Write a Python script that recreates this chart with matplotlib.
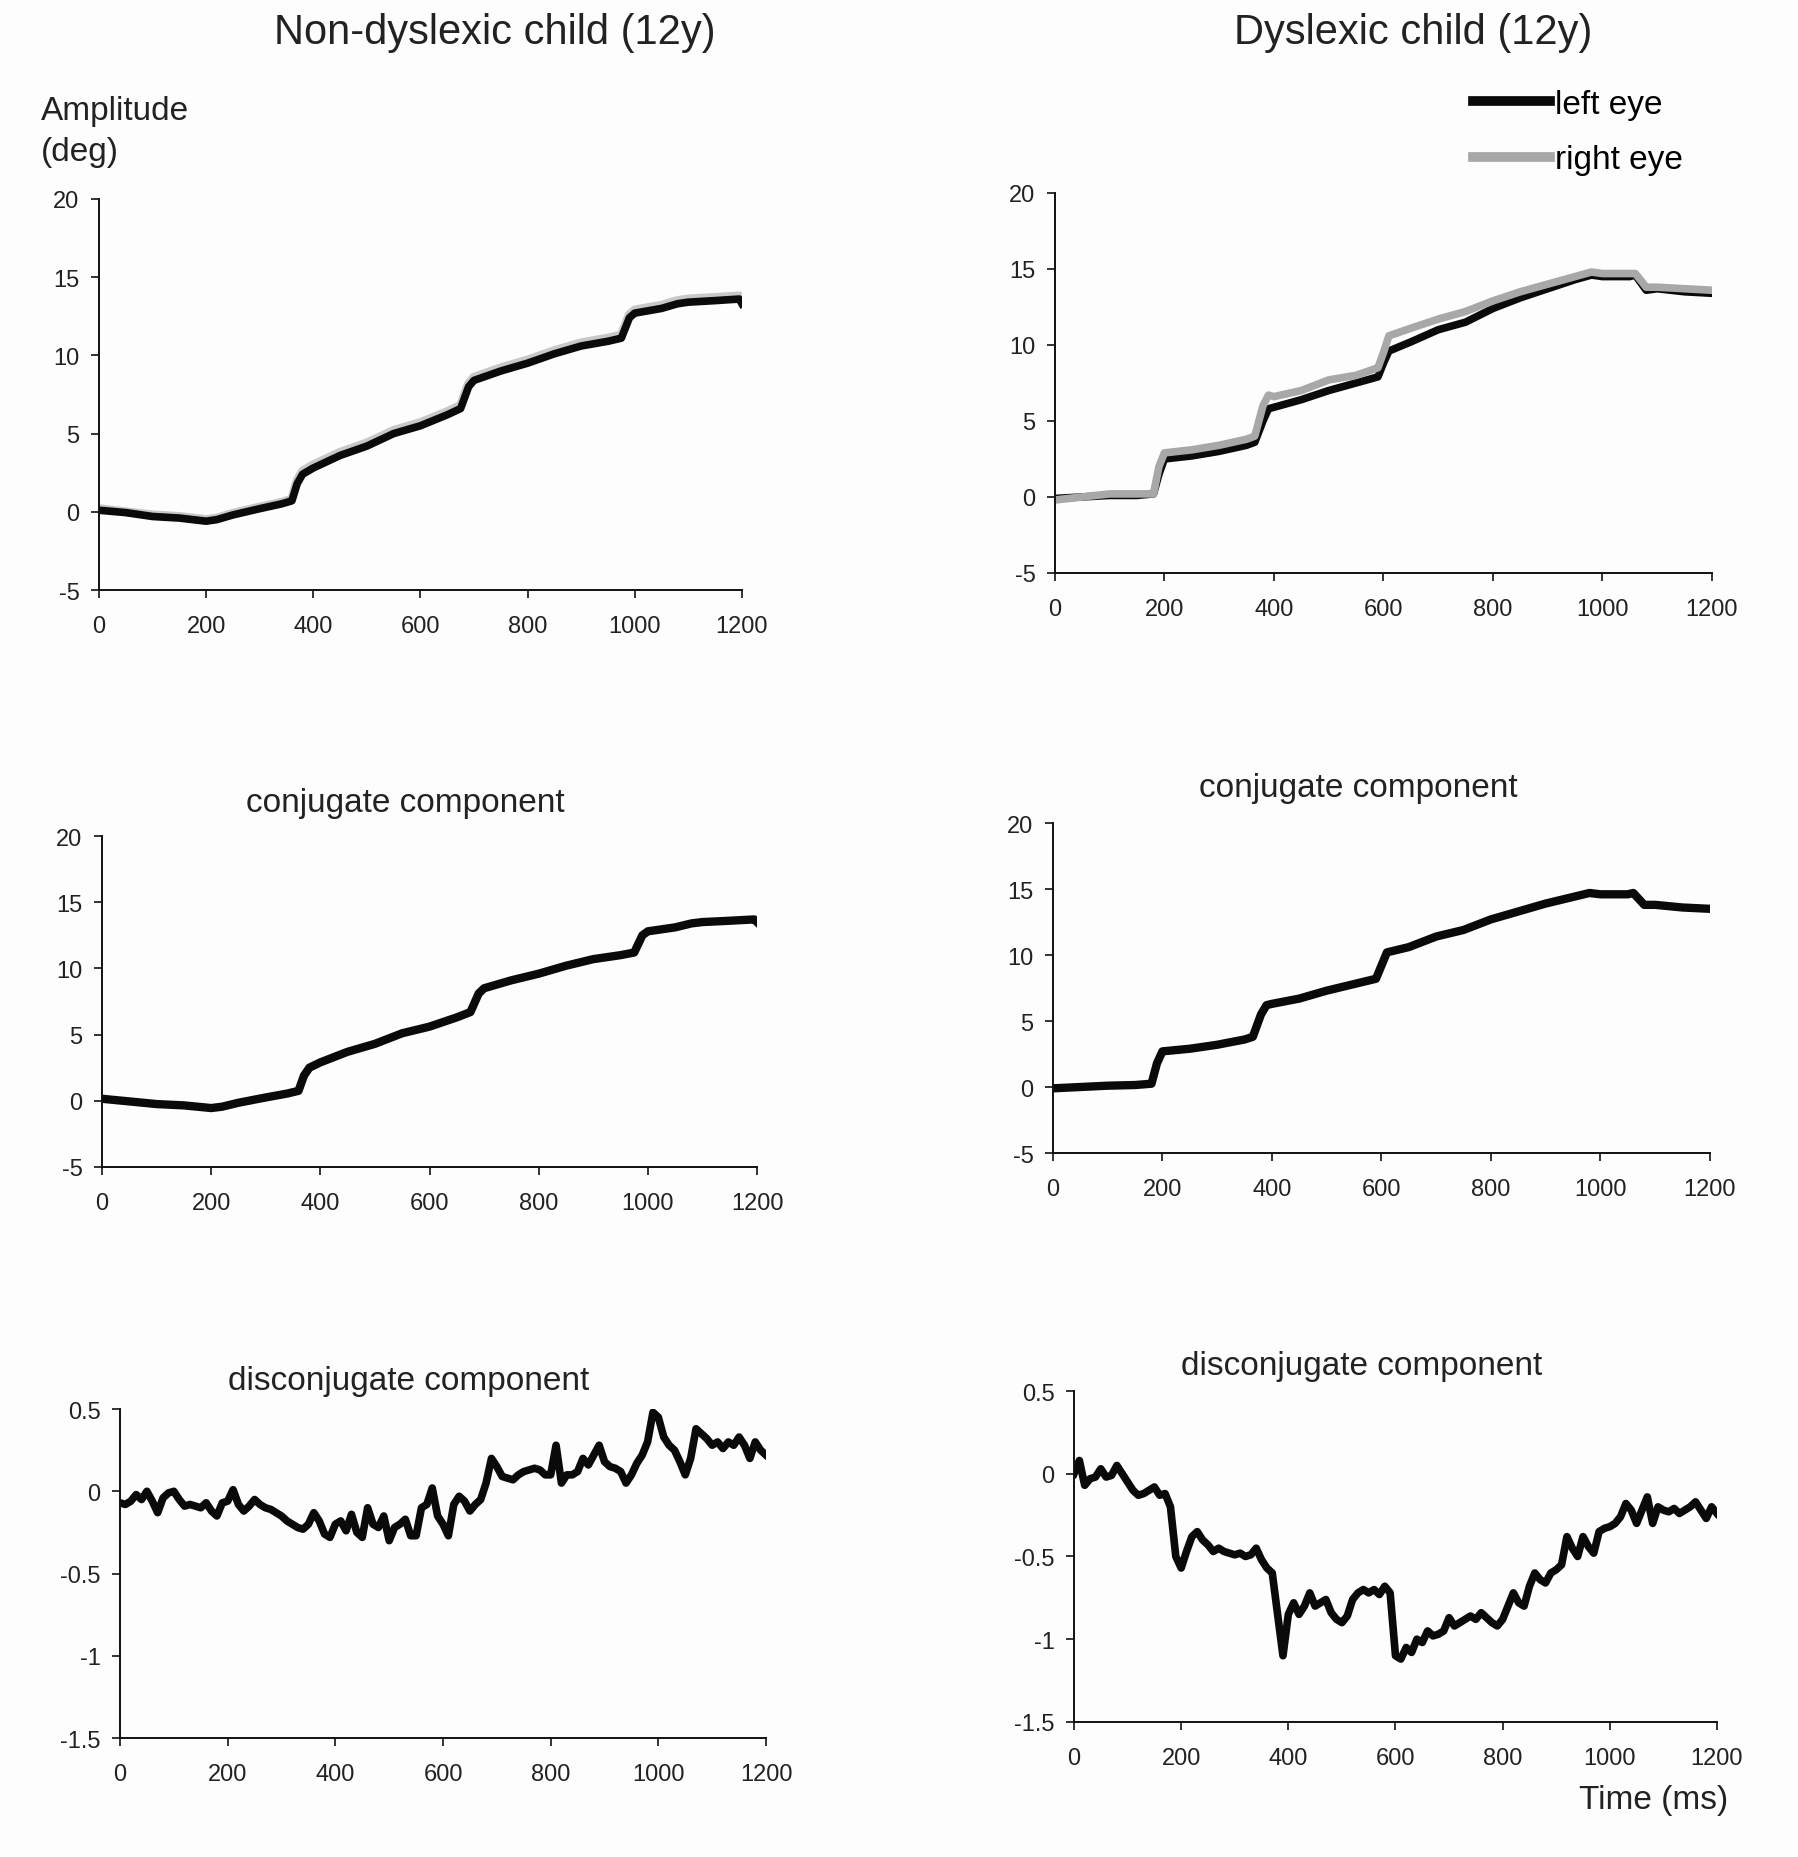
import numpy as np
import matplotlib
matplotlib.use('Agg')
import matplotlib.pyplot as plt
from matplotlib.ticker import FuncFormatter

plt.rcParams['font.family'] = ['Liberation Sans', 'DejaVu Sans']
plt.rcParams['axes.unicode_minus'] = False

# --- Daten ---
# Nicht-dyslektisches Kind: Positionen (linkes / rechtes Auge)
t_nd = [0, 50, 100, 150, 200, 220, 250, 300, 340, 360, 370, 380, 400, 450, 500, 550,
        600, 650, 675, 690, 700, 750, 800, 850, 900, 950, 975, 990, 1000, 1050, 1080,
        1100, 1150, 1195, 1200]
nd_left = [0.1, -0.05, -0.3, -0.4, -0.6, -0.5, -0.2, 0.2, 0.5, 0.7, 1.8, 2.4, 2.8, 3.6, 4.2, 5.0,
           5.5, 6.2, 6.6, 8.0, 8.4, 9.0, 9.5, 10.1, 10.6, 10.9, 11.1, 12.4, 12.7, 13.0, 13.3,
           13.4, 13.5, 13.6, 13.3]
nd_right = [0.2, 0.0, -0.2, -0.3, -0.5, -0.4, -0.1, 0.3, 0.6, 0.8, 2.0, 2.6, 3.0, 3.8, 4.4, 5.2,
            5.7, 6.4, 6.8, 8.2, 8.6, 9.2, 9.7, 10.3, 10.8, 11.1, 11.3, 12.6, 12.9, 13.2, 13.5,
            13.6, 13.7, 13.8, 13.7]
nd_conj = [0.15, -0.05, -0.25, -0.35, -0.55, -0.45, -0.15, 0.25, 0.55, 0.75, 1.9, 2.5, 2.9, 3.7, 4.3, 5.1,
           5.6, 6.3, 6.7, 8.1, 8.5, 9.1, 9.6, 10.2, 10.7, 11.0, 11.2, 12.5, 12.8, 13.1, 13.4,
           13.5, 13.6, 13.7, 13.5]

# Dyslektisches Kind: Positionen
t_d = [0, 50, 100, 150, 180, 190, 200, 250, 300, 350, 365, 380, 390, 400, 450, 500, 550,
       590, 600, 610, 650, 700, 750, 800, 850, 900, 950, 980, 1000, 1050, 1060, 1080,
       1100, 1150, 1200]
d_left = [-0.1, 0.0, 0.1, 0.1, 0.2, 1.5, 2.5, 2.7, 3.0, 3.4, 3.6, 5.0, 5.8, 5.9, 6.4, 7.0, 7.5,
          7.9, 8.8, 9.6, 10.2, 11.0, 11.5, 12.4, 13.1, 13.7, 14.3, 14.6, 14.5, 14.5, 14.6, 13.6,
          13.7, 13.5, 13.4]
d_right = [-0.2, 0.0, 0.2, 0.2, 0.2, 2.0, 2.9, 3.1, 3.4, 3.8, 4.0, 6.0, 6.7, 6.6, 7.0, 7.7, 8.0,
           8.5, 9.5, 10.6, 11.1, 11.7, 12.2, 12.9, 13.5, 14.0, 14.5, 14.8, 14.7, 14.7, 14.7, 13.8,
           13.8, 13.7, 13.6]
d_conj = [-0.1, 0.0, 0.1, 0.15, 0.25, 1.8, 2.7, 2.9, 3.2, 3.6, 3.8, 5.5, 6.2, 6.3, 6.7, 7.3, 7.8,
          8.2, 9.2, 10.2, 10.6, 11.4, 11.9, 12.7, 13.3, 13.9, 14.4, 14.7, 14.6, 14.6, 14.7, 13.8,
          13.8, 13.6, 13.5]

# Disjugierte Komponente (10-ms-Raster)
t_dis = list(range(0, 1201, 10))
nd_dis = [-0.07, -0.08, -0.06, -0.02, -0.05, 0.0, -0.06, -0.13, -0.04, -0.01,
          0.0, -0.05, -0.09, -0.08, -0.09, -0.1, -0.07, -0.12, -0.15, -0.07,
          -0.06, 0.01, -0.08, -0.12, -0.09, -0.05, -0.08, -0.1, -0.11, -0.13,
          -0.15, -0.18, -0.2, -0.22, -0.23, -0.2, -0.13, -0.18, -0.26, -0.28,
          -0.2, -0.18, -0.24, -0.14, -0.25, -0.28, -0.1, -0.2, -0.22, -0.15,
          -0.3, -0.22, -0.2, -0.17, -0.27, -0.27, -0.1, -0.08, 0.02, -0.15,
          -0.2, -0.27, -0.08, -0.03, -0.06, -0.12, -0.08, -0.05, 0.05, 0.2,
          0.15, 0.09, 0.08, 0.07, 0.1, 0.12, 0.13, 0.14, 0.13, 0.1,
          0.1, 0.28, 0.05, 0.1, 0.1, 0.12, 0.2, 0.16, 0.22, 0.28,
          0.18, 0.15, 0.14, 0.12, 0.05, 0.1, 0.17, 0.22, 0.3, 0.48,
          0.45, 0.33, 0.28, 0.25, 0.18, 0.1, 0.2, 0.38, 0.35, 0.32,
          0.28, 0.3, 0.26, 0.3, 0.28, 0.33, 0.28, 0.2, 0.3, 0.25,
          0.22]
d_dis = [0.0, 0.08, -0.07, -0.03, -0.02, 0.03, -0.02, -0.01, 0.05, 0.0,
         -0.05, -0.1, -0.13, -0.12, -0.1, -0.08, -0.13, -0.12, -0.2, -0.5,
         -0.57, -0.47, -0.38, -0.35, -0.4, -0.43, -0.47, -0.45, -0.47, -0.48,
         -0.49, -0.48, -0.5, -0.49, -0.45, -0.52, -0.57, -0.6, -0.85, -1.1,
         -0.85, -0.78, -0.85, -0.8, -0.72, -0.8, -0.78, -0.76, -0.84, -0.88,
         -0.9, -0.86, -0.76, -0.72, -0.7, -0.72, -0.7, -0.73, -0.68, -0.72,
         -1.1, -1.12, -1.05, -1.08, -1.0, -1.02, -0.95, -0.98, -0.97, -0.95,
         -0.87, -0.92, -0.9, -0.88, -0.86, -0.88, -0.84, -0.87, -0.9, -0.92,
         -0.88, -0.8, -0.72, -0.78, -0.8, -0.68, -0.6, -0.64, -0.66, -0.6,
         -0.58, -0.55, -0.38, -0.45, -0.5, -0.38, -0.44, -0.48, -0.35, -0.33,
         -0.32, -0.3, -0.26, -0.18, -0.22, -0.3, -0.22, -0.14, -0.3, -0.2,
         -0.22, -0.23, -0.21, -0.24, -0.22, -0.2, -0.17, -0.22, -0.27, -0.2,
         -0.24]

x_ticks = [0, 200, 400, 600, 800, 1000, 1200]
pos_ticks = [-5, 0, 5, 10, 15, 20]
dis_ticks = [-1.5, -1, -0.5, 0, 0.5]

BLACK = '#0a0a0a'
GRAY = '#a8a8a8'


def style_ax(ax, ylim, yticks):
    ax.set_xlim(0, 1200)
    ax.set_ylim(*ylim)
    ax.set_xticks(x_ticks)
    ax.set_yticks(yticks)
    ax.yaxis.set_major_formatter(FuncFormatter(lambda v, p: '%g' % v))
    for s in ['top', 'right']:
        ax.spines[s].set_visible(False)
    for s in ['left', 'bottom']:
        ax.spines[s].set_linewidth(1.4)
        ax.spines[s].set_color('#111111')
    ax.tick_params(axis='both', direction='out', length=6, width=1.2,
                   labelsize=17, colors='#111111', labelcolor='#222222')
    ax.tick_params(axis='x', pad=12)
    ax.tick_params(axis='y', pad=8)


fig = plt.figure(figsize=(17.99, 18.58), dpi=100)
fig.patch.set_facecolor('#fdfdfd')

# Positionen der Achsen (links, unten, Breite, Höhe)
ax_tl = fig.add_axes([0.0550, 0.6819, 0.3574, 0.2105])
ax_tr = fig.add_axes([0.5864, 0.6911, 0.3652, 0.2045])
ax_ml = fig.add_axes([0.0567, 0.3714, 0.3641, 0.1781])
ax_mr = fig.add_axes([0.5853, 0.3789, 0.3652, 0.1776])
ax_bl = fig.add_axes([0.0667, 0.0640, 0.3591, 0.1771])
ax_br = fig.add_axes([0.5970, 0.0727, 0.3574, 0.1781])

for ax in [ax_tl, ax_tr, ax_ml, ax_mr, ax_bl, ax_br]:
    ax.set_facecolor('#fdfdfd')

# Oben links
ax_tl.plot(t_nd, nd_right, color='#c8c8c8', lw=6.5, solid_joinstyle='round')
ax_tl.plot(t_nd, nd_left, color=BLACK, lw=5.5, solid_joinstyle='round')
style_ax(ax_tl, (-5, 20), pos_ticks)

# Oben rechts
ax_tr.plot(t_d, d_left, color=BLACK, lw=5.5, label='left eye', solid_joinstyle='round')
ax_tr.plot(t_d, d_right, color=GRAY, lw=5.5, label='right eye', solid_joinstyle='round')
style_ax(ax_tr, (-5, 20), pos_ticks)

# Mitte: konjugierte Komponente
ax_ml.plot(t_nd, nd_conj, color=BLACK, lw=6, solid_joinstyle='round')
style_ax(ax_ml, (-5, 20), pos_ticks)
ax_mr.plot(t_d, d_conj, color=BLACK, lw=6, solid_joinstyle='round')
style_ax(ax_mr, (-5, 20), pos_ticks)

# Unten: disjugierte Komponente
ax_bl.plot(t_dis, nd_dis, color=BLACK, lw=5.5, solid_joinstyle='round')
style_ax(ax_bl, (-1.5, 0.5), dis_ticks)
ax_br.plot(t_dis, d_dis, color=BLACK, lw=5.5, solid_joinstyle='round')
style_ax(ax_br, (-1.5, 0.5), dis_ticks)

# Legende
leg = fig.legend(handles=ax_tr.get_lines(), loc='upper left', bbox_to_anchor=(0.819, 0.9515),
                 frameon=False, fontsize=24, handlelength=2.3, handletextpad=0.15,
                 labelspacing=0.73, borderpad=0, borderaxespad=0)
for line in leg.get_lines():
    line.set_linewidth(7)

# Beschriftungen
fig.text(0.2752, 0.9822, 'Non-dyslexic child (12y)', fontsize=30, ha='center', va='center', color='#222222')
fig.text(0.7854, 0.9822, 'Dyslexic child (12y)', fontsize=30, ha='center', va='center', color='#222222')
fig.text(0.0228, 0.9400, 'Amplitude', fontsize=24, ha='left', va='center', color='#222222')
fig.text(0.0228, 0.9180, '(deg)', fontsize=24, ha='left', va='center', color='#222222')
fig.text(0.2251, 0.5673, 'conjugate component', fontsize=24, ha='center', va='center', color='#222222')
fig.text(0.7549, 0.5754, 'conjugate component', fontsize=24, ha='center', va='center', color='#222222')
fig.text(0.2273, 0.2567, 'disconjugate component', fontsize=24, ha='center', va='center', color='#222222')
fig.text(0.7571, 0.2648, 'disconjugate component', fontsize=24, ha='center', va='center', color='#222222')
fig.text(0.9605, 0.0307, 'Time (ms)', fontsize=24, ha='right', va='center', color='#222222')

plt.savefig('out.png', dpi=100, facecolor=fig.get_facecolor())
